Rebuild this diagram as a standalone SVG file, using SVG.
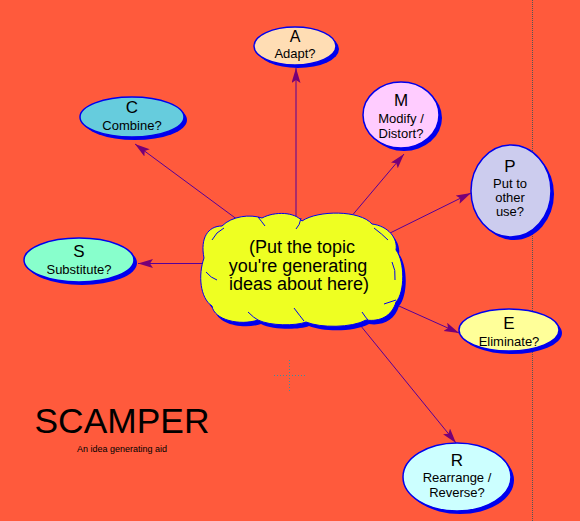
<svg xmlns="http://www.w3.org/2000/svg" width="580" height="521" viewBox="0 0 580 521">
<style>
text{font-family:"Liberation Sans",Arial,sans-serif;fill:#000;text-anchor:middle}
.big{font-size:17px}
.sm{font-size:13px}
.shadow{fill:#0000EE}
.node{stroke:#0000EE;stroke-width:1.5}
.conn{stroke:#550099;stroke-width:1;fill:none}
.crease{stroke:#0000EE;stroke-width:1;fill:none}
</style>
<defs>
<marker id="arr" markerUnits="userSpaceOnUse" markerWidth="16" markerHeight="10" refX="15" refY="4.5" orient="auto">
<path d="M0,0 L15,4.5 L0,9 L3,4.5 Z" fill="#770077"/>
</marker>
<path id="cloud" d="M204,258 C200,238 208,226 222,226 C232,216 250,214 262,218 C275,211 295,212 302,221 C318,210 360,210 372,224 C388,226 398,238 396,250 C405,262 405,292 396,302 C392,316 380,322 366,320 C352,328 320,328 306,322 C296,326 270,326 258,320 C240,326 214,320 212,306 C200,298 198,275 204,258 Z"/>
</defs>
<rect width="580" height="521" fill="#FF5A3C"/>
<line x1="532.5" y1="0" x2="532.5" y2="521" stroke="#555" stroke-width="1" stroke-dasharray="1,1"/>
<g id="crosshair" stroke="#3a8fa0" stroke-width="1" stroke-dasharray="1,2">
<line x1="274" y1="375.5" x2="305" y2="375.5"/>
<line x1="289.5" y1="360" x2="289.5" y2="391"/>
</g>
<g id="connectors">
<line class="conn" x1="296" y1="218" x2="296" y2="68" marker-end="url(#arr)"/>
<line class="conn" x1="238" y1="220" x2="135" y2="144" marker-end="url(#arr)"/>
<line class="conn" x1="350" y1="218" x2="404" y2="154" marker-end="url(#arr)"/>
<line class="conn" x1="384" y1="236" x2="471" y2="193" marker-end="url(#arr)"/>
<line class="conn" x1="205" y1="263.5" x2="138" y2="263.5" marker-end="url(#arr)"/>
<line class="conn" x1="390" y1="302" x2="459" y2="333" marker-end="url(#arr)"/>
<line class="conn" x1="356" y1="320" x2="456" y2="443" marker-end="url(#arr)"/>
</g>
<g id="topic">
<use href="#cloud" class="shadow" transform="translate(3,4)"/>
<use href="#cloud" fill="#EEFF22" stroke="#0000EE" stroke-width="1"/>
<path class="crease" d="M212,240 Q216,232 224,228"/>
<path class="crease" d="M258,217 Q262,222 265,226"/>
<path class="crease" d="M301,218 Q300,225 296,229"/>
<path class="crease" d="M374,228 Q382,234 388,240"/>
<path class="crease" d="M392,262 Q396,270 395,280"/>
<path class="crease" d="M384,304 Q390,302 396,300"/>
<path class="crease" d="M362,312 Q366,318 368,320"/>
<path class="crease" d="M294,308 Q300,316 304,321"/>
<path class="crease" d="M248,312 Q254,318 258,320"/>
<path class="crease" d="M206,272 Q211,278 217,280"/>
<text x="302" y="253" style="font-size:18px">(Put the topic</text>
<text x="298" y="272" style="font-size:18px">you're generating</text>
<text x="299" y="290" style="font-size:18px">ideas about here)</text>
</g>
<g id="nodeA">
<ellipse class="shadow" cx="298" cy="49" rx="41" ry="19"/>
<ellipse class="node" cx="295" cy="46" rx="41" ry="19" fill="#FFDDB4"/>
<text x="295" y="42" style="font-size:16px">A</text>
<text class="sm" x="295" y="58">Adapt?</text>
</g>
<g id="nodeC">
<ellipse class="shadow" cx="135" cy="120" rx="52" ry="20"/>
<ellipse class="node" cx="132" cy="117" rx="52" ry="20" fill="#66CCDD"/>
<text class="big" x="132" y="113">C</text>
<text class="sm" x="132" y="130">Combine?</text>
</g>
<g id="nodeM">
<ellipse class="shadow" cx="404" cy="118" rx="38" ry="33"/>
<ellipse class="node" cx="401" cy="115" rx="38" ry="33" fill="#FFCCFF"/>
<text class="big" x="401" y="106">M</text>
<text class="sm" x="401" y="123">Modify /</text>
<text class="sm" x="401" y="138">Distort?</text>
</g>
<g id="nodeP">
<ellipse class="shadow" cx="514" cy="194" rx="40" ry="46"/>
<ellipse class="node" cx="511" cy="191" rx="40" ry="46" fill="#CCCCEE"/>
<text class="big" x="510" y="172">P</text>
<text class="sm" x="510" y="188">Put to</text>
<text class="sm" x="510" y="202">other</text>
<text class="sm" x="510" y="216">use?</text>
</g>
<g id="nodeS">
<ellipse class="shadow" cx="82" cy="263" rx="55" ry="22"/>
<ellipse class="node" cx="79" cy="260" rx="55" ry="22" fill="#88FFCC"/>
<text class="big" x="79" y="257">S</text>
<text class="sm" x="79" y="274">Substitute?</text>
</g>
<g id="nodeE">
<ellipse class="shadow" cx="512" cy="333" rx="50" ry="21"/>
<ellipse class="node" cx="509" cy="330" rx="50" ry="21" fill="#FFFF99"/>
<text class="big" x="509" y="329">E</text>
<text class="sm" x="509" y="346">Eliminate?</text>
</g>
<g id="nodeR">
<ellipse class="shadow" cx="460" cy="480" rx="54" ry="34"/>
<ellipse class="node" cx="457" cy="477" rx="54" ry="34" fill="#CCFFFF"/>
<text class="big" x="457" y="466">R</text>
<text class="sm" x="457" y="482">Rearrange /</text>
<text class="sm" x="457" y="497">Reverse?</text>
</g>
<g id="title">
<text x="122" y="433" style="font-size:35px" textLength="175" lengthAdjust="spacingAndGlyphs">SCAMPER</text>
<text x="122" y="452" style="font-size:9px" textLength="90" lengthAdjust="spacingAndGlyphs">An idea generating aid</text>
</g>
</svg>
